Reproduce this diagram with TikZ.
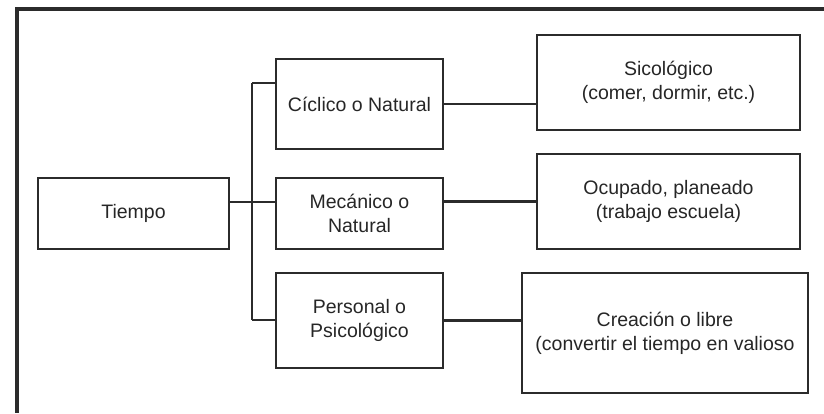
\documentclass[tikz,border=0pt]{standalone}
\usepackage{fontspec}
\setmainfont{Liberation Sans}
\usepackage{tikz}
\usetikzlibrary{positioning}

\definecolor{trazo}{HTML}{2B2B2B}

\tikzset{
    caja/.style = {
        draw = trazo,
        line width = 1.4pt,
        rectangle,
        align = center,
        inner sep = 0pt,
        text = black!85,
        font = \fontsize{11.1}{13.7}\selectfont},
    enlace/.style = {draw = trazo, line width = 1.4pt}
}

\begin{document}
\begin{tikzpicture}[x=0.02cm, y=-0.02cm]
        \useasboundingbox (0,0) rectangle (824,413);
        % marco
        \draw[trazo, line width = 2pt] (824,9) -- (17,9) -- (17,413);

        \node[caja, minimum width = 3.82cm, minimum height = 1.42cm] (tiempo) at (133.5,213.5) {Tiempo};

        \node[caja, minimum width = 3.34cm, minimum height = 1.8cm] (ciclico) at (359.5,104) {C\'iclico o Natural};
        \node[caja, minimum width = 3.34cm, minimum height = 1.42cm] (mecanico) at (359.5,213.5) {Mec\'anico o\\Natural};
        \node[caja, minimum width = 3.34cm, minimum height = 1.9cm] (personal) at (359.5,320.5) {Personal o\\Psicol\'ogico};

        \node[caja, minimum width = 5.26cm, minimum height = 1.9cm] (sicologico) at (668.5,82.5) {Sicol\'ogico\\(comer, dormir, etc.)};
        \node[caja, minimum width = 5.26cm, minimum height = 1.9cm] (ocupado) at (668.5,201.5) {Ocupado, planeado\\(trabajo escuela)};
        \node[caja, minimum width = 5.72cm, minimum height = 2.4cm] (creacion) at (665,333) {Creaci\'on o libre\\(convertir el tiempo en valioso};

        % ramas
        \coordinate (rarriba) at (252,83);
        \coordinate (rmedio) at (252,202);
        \coordinate (rabajo) at (252,320);
        \draw[enlace] (rarriba) -- (rabajo);
        \draw[enlace] (rarriba) -- (ciclico.west |- rarriba);
        \draw[enlace] (tiempo.east |- rmedio) -- (mecanico.west |- rmedio);
        \draw[enlace] (rabajo) -- (personal.west |- rabajo);

        \draw[enlace] (ciclico.east) -- (ciclico.east -| sicologico.west);
        \draw[enlace] (ocupado.west -| mecanico.east) -- (ocupado.west);
        \draw[enlace] (personal.east) -- (personal.east -| creacion.west);
    \end{tikzpicture}
\end{document}
